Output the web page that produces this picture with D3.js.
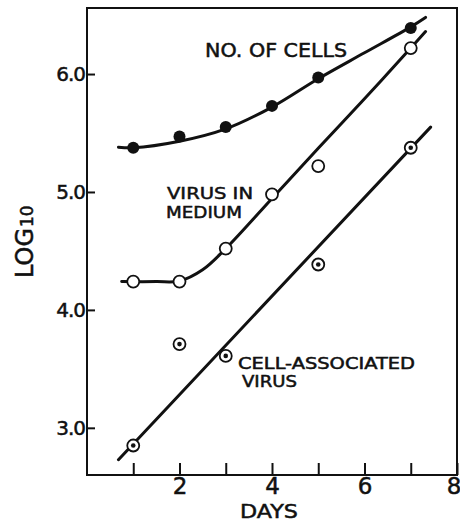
<!DOCTYPE html>
<html>
<head>
<meta charset="utf-8">
<script src="https://cdn.jsdelivr.net/npm/d3@7"></script>
<style>
  body { margin: 0; background: #fff; }
  svg text { font-family: "DejaVu Sans", sans-serif; font-weight: normal; fill: #111; stroke: #111; stroke-width: 0.5px; }
</style>
</head>
<body>
<div id="app"></div>
<script>
// measured points
const days = [1, 2, 3, 4, 5, 7];
const cells = [5.375, 5.47, 5.55, 5.73, 5.97, 6.39];
const virusMedium = [4.24, 4.24, 4.52, 4.98, 5.22, 6.22];
const daysAssoc = [1, 2, 3, 5, 7];
const cellAssoc = [2.85, 3.71, 3.61, 4.385, 5.375];

// hand-drawn fitted curves
const cellsFitDays = [0.68, 1, 2, 3, 4, 5, 6, 7, 7.32];
const cellsFitVals = [5.38, 5.375, 5.43, 5.535, 5.72, 5.96, 6.18, 6.40, 6.48];
const mediumFitDays = [0.75, 1.5, 2, 2.5, 3, 4, 5, 6, 7, 7.32];
const mediumFitVals = [4.24, 4.24, 4.245, 4.34, 4.52, 4.945, 5.37, 5.79, 6.22, 6.36];
const assocFitDays = [0.68, 7.43];
const assocFitVals = [2.73, 5.55];

const xTicks = [1, 2, 3, 4, 5, 6, 7, 8];
const xTickLabels = ["", "2", "", "4", "", "6", "", "8"];
const yTicks = [3, 4, 5, 6];
const yTickLabels = ["3.0", "4.0", "5.0", "6.0"];

function plotChart() {
    const svgWidth = 460;
    const svgHeight = 521;
    const margin = { top: 8, bottom: 46, left: 87, right: 3 };
    const width = svgWidth - margin.left - margin.right;
    const height = svgHeight - margin.top - margin.bottom;

    const svg = d3.select("#app").append("svg")
        .attr("width", svgWidth)
        .attr("height", svgHeight);

    const x = d3.scaleLinear().domain([0, 8]).range([0, width]);
    const y = d3.scaleLinear().domain([2.6, 6.56]).range([height, 0]);

    const chart = svg.append("g")
        .attr("transform", "translate(" + margin.left + "," + margin.top + ")");

    // frame
    chart.append("rect")
        .attr("x", 0).attr("y", 0)
        .attr("width", width).attr("height", height)
        .attr("fill", "none")
        .attr("stroke", "#111")
        .attr("stroke-width", 2);

    // x axis, ticks pointing inward
    const xAxis = chart.append("g")
        .attr("transform", "translate(0," + height + ")")
        .call(d3.axisBottom(x)
            .tickValues(xTicks)
            .tickSize(-12)
            .tickPadding(3)
            .tickFormat((d, i) => xTickLabels[i]));
    xAxis.select(".domain").remove();
    xAxis.selectAll("line").attr("stroke", "#111").attr("stroke-width", 2);
    xAxis.selectAll("text")
        .attr("font-size", 23)
        .attr("font-family", null)
        .attr("fill", "#111");
    // last label sits against the right edge of the frame
    xAxis.selectAll("text")
        .filter(d => d === xTicks[xTicks.length - 1])
        .attr("text-anchor", "end")
        .attr("dx", 4);

    // y axis, ticks pointing inward
    const yAxis = chart.append("g")
        .call(d3.axisLeft(y)
            .tickValues(yTicks)
            .tickSize(-8)
            .tickPadding(2)
            .tickFormat((d, i) => yTickLabels[i]));
    yAxis.select(".domain").remove();
    yAxis.selectAll("line").attr("stroke", "#111").attr("stroke-width", 2);
    yAxis.selectAll("text")
        .attr("font-size", 20)
        .attr("font-family", null)
        .attr("letter-spacing", -1)
        .attr("fill", "#111");

    // axis titles
    svg.append("text")
        .attr("x", 269).attr("y", 518)
        .attr("text-anchor", "middle")
        .attr("font-size", 19)
        .attr("textLength", 58)
        .attr("lengthAdjust", "spacingAndGlyphs")
        .text("DAYS");

    const yTitle = svg.append("text")
        .attr("transform", "translate(33,278) rotate(-90)")
        .attr("font-size", 24);
    yTitle.append("tspan").text("LOG");
    yTitle.append("tspan").attr("font-size", 17).attr("dx", 1).text("10");

    // fitted curves
    const line = d3.line()
        .x(d => x(d[0]))
        .y(d => y(d[1]))
        .curve(d3.curveCatmullRom.alpha(0.5));

    const fits = [
        d3.zip(cellsFitDays, cellsFitVals),
        d3.zip(mediumFitDays, mediumFitVals),
        d3.zip(assocFitDays, assocFitVals)
    ];
    chart.selectAll(".fit")
        .data(fits)
        .enter()
            .append("path")
            .classed("fit", true)
            .attr("d", line)
            .attr("fill", "none")
            .attr("stroke", "#111")
            .attr("stroke-width", 3)
            .attr("stroke-linecap", "round");

    // no. of cells - filled dots
    chart.selectAll(".cells")
        .data(d3.zip(days, cells))
        .enter()
            .append("circle")
            .attr("cx", d => x(d[0]))
            .attr("cy", d => y(d[1]))
            .attr("r", 6)
            .attr("fill", "#111");

    // virus in medium - open circles
    chart.selectAll(".medium")
        .data(d3.zip(days, virusMedium))
        .enter()
            .append("circle")
            .attr("cx", d => x(d[0]))
            .attr("cy", d => y(d[1]))
            .attr("r", 6)
            .attr("fill", "#fff")
            .attr("stroke", "#111")
            .attr("stroke-width", 1.8);

    // cell-associated virus - dotted circles
    const assoc = chart.selectAll(".assoc")
        .data(d3.zip(daysAssoc, cellAssoc))
        .enter()
            .append("g")
            .attr("transform", d => "translate(" + x(d[0]) + "," + y(d[1]) + ")");
    assoc.append("circle")
        .attr("r", 6)
        .attr("fill", "#fff")
        .attr("stroke", "#111")
        .attr("stroke-width", 1.8);
    assoc.append("circle")
        .attr("r", 2.3)
        .attr("fill", "#111");

    // curve labels, one text per label with a tspan per line
    const labels = [
        { s: 19, lines: [{ t: "NO. OF CELLS", x: 205, y: 57, w: 142 }] },
        { s: 16, lines: [{ t: "VIRUS IN", x: 167, y: 199, w: 86 },
                         { t: "MEDIUM", x: 166, y: 218, w: 76 }] },
        { s: 15, lines: [{ t: "CELL-ASSOCIATED", x: 238, y: 369, w: 177 },
                         { t: "VIRUS", x: 242, y: 387, w: 55 }] }
    ];
    const lbl = svg.selectAll(".lbl")
        .data(labels)
        .enter()
            .append("text")
            .classed("lbl", true)
            .attr("font-size", d => d.s);
    lbl.selectAll("tspan")
        .data(d => d.lines)
        .enter()
            .append("tspan")
            .attr("x", d => d.x)
            .attr("y", d => d.y)
            .attr("textLength", d => d.w)
            .attr("lengthAdjust", "spacingAndGlyphs")
            .text(d => d.t);
}

plotChart();
</script>
</body>
</html>
